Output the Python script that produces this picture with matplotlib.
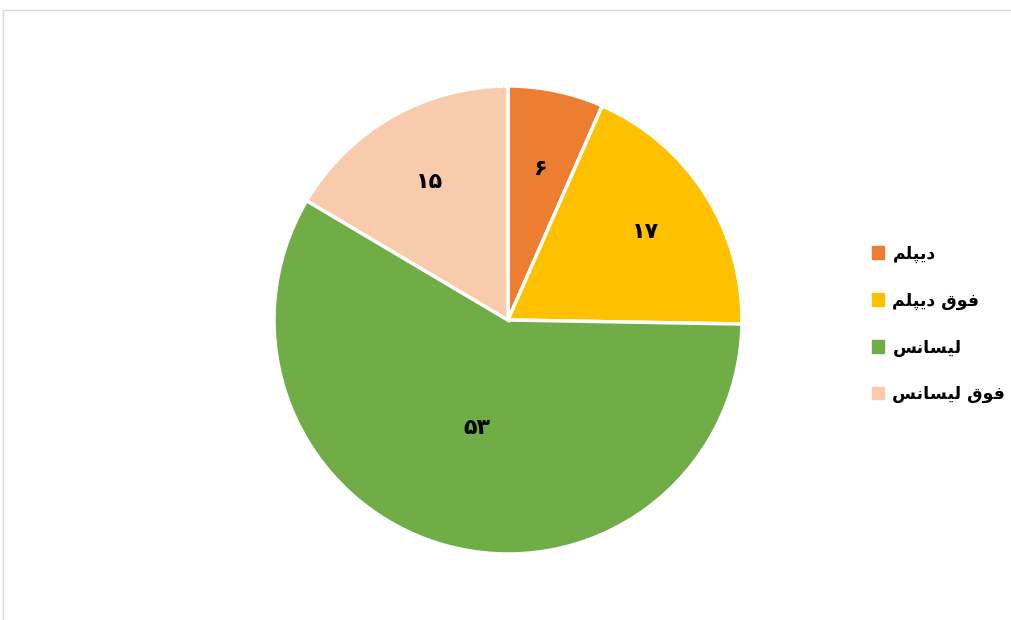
import numpy as np
import matplotlib.pyplot as plt
from matplotlib.patches import Patch, Rectangle

# Persian labels written in visual order with presentation forms,
# since matplotlib does no Arabic shaping / bidi on its own
categories = [
    "\uFEE2\uFEE0\uFB59\uFBFE\uFEA9",                                   # دیپلم
    "\uFEE2\uFEE0\uFB59\uFBFE\uFEA9 \uFED5\uFEEE\uFED3",                # فوق دیپلم
    "\uFEB2\uFEE7\uFE8E\uFEB4\uFBFF\uFEDF",                             # لیسانس
    "\uFEB2\uFEE7\uFE8E\uFEB4\uFBFF\uFEDF \uFED5\uFEEE\uFED3",          # فوق لیسانس
]
values = [6, 17, 53, 15]
value_labels = ["\u06F6", "\u06F1\u06F7", "\u06F5\u06F3", "\u06F1\u06F5"]
colors = ["#ED7D31", "#FFC000", "#70AD47", "#F8CBAD"]
label_radius = [0.66, 0.70, 0.48, 0.68]

fig = plt.figure(figsize=(10.12, 6.2), dpi=100)
fig.patches.append(Rectangle((3 / 1012, -0.1), 1.1, 1 - 10 / 620 + 0.1,
                             transform=fig.transFigure, fill=False,
                             edgecolor="#D9D9D9", linewidth=1))

ax = fig.add_axes([274 / 1012, (620 - 320 - 234) / 620, 468 / 1012, 468 / 620])
wedges, _ = ax.pie(values, colors=colors, startangle=90, counterclock=False,
                   wedgeprops=dict(edgecolor="white", linewidth=2.5))
ax.set_xlim(-1, 1)
ax.set_ylim(-1, 1)
ax.set_aspect("equal")

for w, lab, r in zip(wedges, value_labels, label_radius):
    ang = np.deg2rad((w.theta1 + w.theta2) / 2)
    ax.text(r * np.cos(ang), r * np.sin(ang), lab, ha="center", va="center",
            fontsize=16, fontweight="bold", family="DejaVu Sans")

handles = [Patch(facecolor=c, edgecolor=c) for c in colors]
fig.legend(handles, categories, loc="center left", bbox_to_anchor=(856 / 1012, 1 - 324 / 620),
           frameon=False, prop=dict(family="DejaVu Sans", weight="bold", size=12.5),
           handlelength=0.7, handleheight=0.7, handletextpad=0.5, labelspacing=1.66)

fig.savefig("out.png", dpi=100)
